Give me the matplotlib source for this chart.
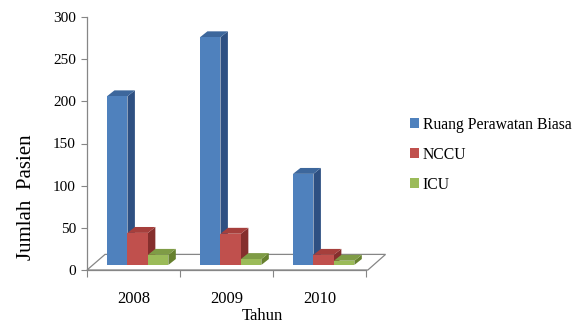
import matplotlib
matplotlib.use("Agg")
import matplotlib.pyplot as plt
from matplotlib.patches import Polygon, Patch

plt.rcParams['font.family'] = ['Liberation Serif', 'DejaVu Serif']

years = ['2008', '2009', '2010']
series = ['Ruang Perawatan Biasa', 'NCCU', 'ICU']
ruang_biasa = [200, 270, 108]
nccu = [38, 37, 12]
icu = [12, 7, 5]
values = [ruang_biasa, nccu, icu]

front_colors = ['#4F81BD', '#C0504D', '#9BBB59']
top_colors = ['#3D679C', '#A63F3C', '#7F9C46']
side_colors = ['#2E5082', '#852F2D', '#67812F']

fig = plt.figure(figsize=(5.79, 3.23), dpi=100)
ax = fig.add_axes([87 / 579, 53 / 323, (366 - 87) / 579, 253 / 323])
ax.set_xlim(0, 3)
ax.set_ylim(0, 300)

grey = '#868686'
for s in ['top', 'right']:
    ax.spines[s].set_visible(False)
for s in ['left', 'bottom']:
    ax.spines[s].set_color(grey)
    ax.spines[s].set_linewidth(0.9)

ax.set_yticks(range(0, 301, 50))
ax.tick_params(axis='y', direction='out', length=4, color=grey, labelsize=11, pad=4)
ax.set_xticks([0, 1, 2, 3])
ax.set_xticklabels([])
ax.set_xticks([0.5, 1.5, 2.5], minor=True)
ax.set_xticklabels(years, minor=True)
ax.tick_params(axis='x', which='major', direction='out', length=5, color=grey)
ax.tick_params(axis='x', which='minor', length=0, labelsize=12, pad=15)

# floor of the 3-D plot area
floor = Polygon([(0, 0), (3.02, 0), (3.21, 18.5), (0.194, 18.5)], closed=True,
                facecolor='none', edgecolor=grey, linewidth=0.9, clip_on=False, zorder=1)
ax.add_patch(floor)

base = 6.0     # bars stand a little behind the front edge of the floor
width = 0.22
ddx, ddy = 0.08, 7.0
z = 2
for i in range(len(years)):
    for j in range(len(series)):
        v = values[j][i]
        x0 = i + 0.215 + j * width
        side = Polygon([(x0 + width, base), (x0 + width + ddx, base + ddy),
                        (x0 + width + ddx, base + v + ddy), (x0 + width, base + v)],
                       closed=True, facecolor=side_colors[j], edgecolor='none',
                       clip_on=False, zorder=z)
        top = Polygon([(x0, base + v), (x0 + width, base + v),
                       (x0 + width + ddx, base + v + ddy), (x0 + ddx, base + v + ddy)],
                      closed=True, facecolor=top_colors[j], edgecolor='none',
                      clip_on=False, zorder=z)
        ax.add_patch(side)
        ax.add_patch(top)
        ax.bar(x0, v, width=width, bottom=base, align='edge', color=front_colors[j],
               edgecolor='none', zorder=z + 0.5, clip_on=False)
        z += 1

fig.text(27 / 579, 1 - 197 / 323, 'Jumlah  Pasien', rotation=90, fontsize=15,
         ha='center', va='center')
fig.text(262 / 579, 1 - 316 / 323, 'Tahun', fontsize=12, ha='center', va='center')

handles = [Patch(facecolor=c, edgecolor='none') for c in front_colors]
fig.legend(handles, series, loc='upper left', bbox_to_anchor=(410 / 579, 1 - 117 / 323),
           frameon=False, fontsize=11.3, handlelength=0.6, handleheight=0.6,
           handletextpad=0.2, labelspacing=0.88, borderaxespad=0, borderpad=0)

fig.savefig('out.png', dpi=100)
